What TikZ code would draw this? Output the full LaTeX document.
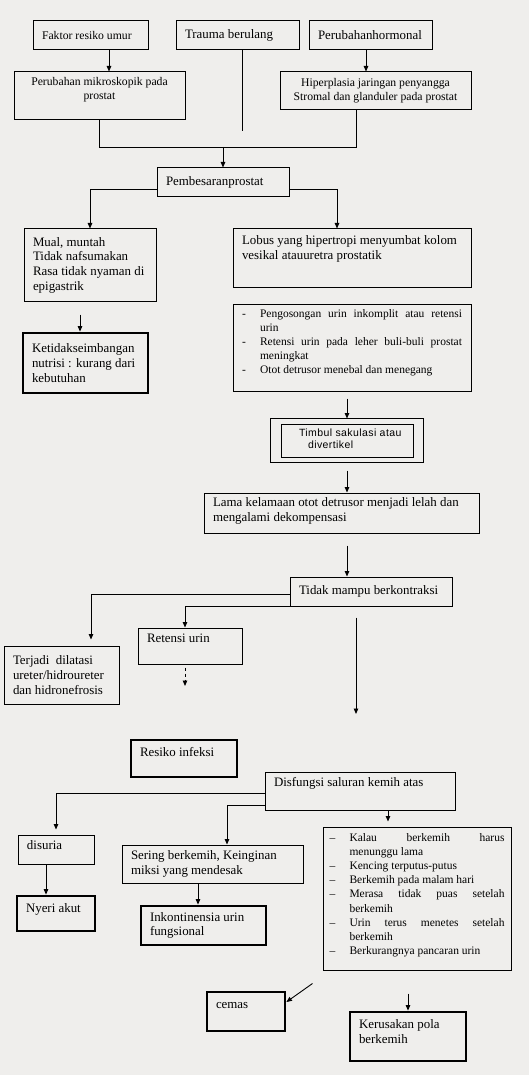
\documentclass[tikz,border=0pt]{standalone}
\usepackage{fontspec}
\setmainfont{Liberation Serif}
\newfontfamily\arialfont[LetterSpace=4]{Liberation Sans}
\usetikzlibrary{arrows.meta}

\definecolor{paper}{RGB}{239,238,236}

% box contents: width, height, text
\newcommand{\midtxt}[3]{\parbox[c][#2][c]{#1}{\raggedright#3}}
\newcommand{\toptxt}[4][5pt]{\parbox[c][#3][t]{#2}{\raggedright\vspace*{#1}\strut#4}}
\newcommand{\listtxt}[4][4pt]{\parbox[c][#3][t]{#2}{\vspace*{#1}#4}}
\newcommand{\dashitem}[3][18pt]{\par\hangindent=#1\hangafter=1\noindent\strut\makebox[#1][l]{#2}#3}

\begin{document}
\begin{tikzpicture}[x=1pt,y=-1pt,
  plainbox/.style={draw,line width=1pt,inner xsep=9pt,inner ysep=0pt,font=\fontsize{12.9}{14.7}\selectfont},
  heavybox/.style={plainbox,line width=2.8pt},
  smallfont/.style={font=\fontsize{11.7}{13.6}\selectfont},
  listfont/.style={font=\fontsize{11.5}{14.1}\selectfont},
  link/.style={line width=0.9pt},
  arr/.style={link,-{Triangle[length=5.5pt,width=4.5pt]}}]

\fill[paper] (0,0) rectangle (529,1075);

% causes
\node[plainbox,smallfont] (faktor) at (90.5,35.5) {\midtxt{97pt}{29pt}{Faktor resiko umur}};
\node[plainbox] (trauma) at (237.5,35.5) {\midtxt{105pt}{29pt}{Trauma berulang}};
\node[plainbox] (hormon) at (370.5,35.5) {\midtxt{105pt}{29pt}{Perubahanhormonal}};
\node[plainbox,smallfont] (mikro) at (99.5,96) {\toptxt[4pt]{153pt}{48pt}{\centering Perubahan mikroskopik pada\\prostat}};
\node[plainbox,smallfont] (hiper) at (375.5,91) {\midtxt{173pt}{38pt}{\centering Hiperplasia jaringan penyangga\\Stromal dan glanduler pada prostat}};
\node[plainbox] (pemb) at (223,182.5) {\midtxt{114pt}{29pt}{Pembesaranprostat}};

% left branch
\node[plainbox] (mual) at (90,265) {\midtxt{114pt}{72pt}{Mual, muntah\\Tidak nafsumakan\\Rasa tidak nyaman di\\epigastrik}};
\node[heavybox] (ketidak) at (85.5,363) {\midtxt{107pt}{60pt}{Ketidakseimbangan\\nutrisi : kurang dari\\kebutuhan}};

% right branch
\node[plainbox] (lobus) at (352,258) {\toptxt[5.7pt]{220pt}{58pt}{Lobus yang hipertropi menyumbat kolom\\vesikal atauuretra prostatik}};
\node[plainbox,listfont] (list1) at (352,347.5) {\listtxt[3.7pt]{220pt}{87pt}{%
  \dashitem{-}{Pengosongan urin inkomplit atau retensi\linebreak urin}
  \dashitem{-}{Retensi urin pada leher buli-buli prostat\linebreak meningkat}
  \dashitem{-}{Otot detrusor menebal dan menegang}}};
\node[plainbox,font=\arialfont\fontsize{10.5}{12}\selectfont] (timbul) at (347,440.5) {\toptxt[4.3pt]{114pt}{33pt}{\hspace*{9pt}Timbul sakulasi atau\\\hspace*{18pt}divertikel}};
\draw[link] ([xshift=-10pt,yshift=5pt]timbul.north west) rectangle ([xshift=10pt,yshift=-5pt]timbul.south east);
\node[plainbox] (lama) at (341.5,513) {\toptxt[3.7pt]{257pt}{40pt}{Lama kelamaan otot detrusor menjadi lelah dan\\mengalami dekompensasi}};
\node[plainbox] (tidak) at (371,591.5) {\midtxt{144pt}{29pt}{Tidak mampu berkontraksi}};

\node[plainbox] (terjadi) at (61.5,675) {\midtxt{97pt}{58pt}{Terjadi \ dilatasi\\ureter/hidroureter\\dan hidronefrosis}};
\node[plainbox] (retensi) at (190,646) {\toptxt[4.7pt]{86pt}{36pt}{Retensi urin}};
\node[heavybox] (resiko) at (184,758.5) {\toptxt[6.7pt]{88pt}{37pt}{Resiko infeksi}};
\node[plainbox] (disf) at (360,791) {\toptxt[4.7pt]{172pt}{38pt}{Disfungsi saluran kemih atas}};

% lower row
\node[plainbox] (disuria) at (56,849.5) {\toptxt[4.7pt]{58pt}{29pt}{disuria}};
\node[heavybox] (nyeri) at (56,913.5) {\toptxt[5.7pt]{60pt}{35pt}{Nyeri akut}};
\node[plainbox] (sering) at (212.5,864) {\midtxt{163pt}{38pt}{Sering berkemih, Keinginan\\miksi yang mendesak}};
\node[heavybox] (inko) at (203.5,925.5) {\midtxt{107pt}{39pt}{Inkontinensia urin\\fungsional}};
\node[plainbox,listfont,inner xsep=6.5pt] (list2) at (417,898.5) {\listtxt[4.7pt]{175pt}{143pt}{%
  \dashitem[20pt]{--}{Kalau berkemih harus\linebreak menunggu lama}
  \dashitem[20pt]{--}{Kencing terputus-putus}
  \dashitem[20pt]{--}{Berkemih pada malam hari}
  \dashitem[20pt]{--}{Merasa tidak puas setelah\linebreak berkemih}
  \dashitem[20pt]{--}{Urin terus menetes setelah\linebreak berkemih}
  \dashitem[20pt]{--}{Berkurangnya pancaran urin}}};
\node[heavybox] (cemas) at (246,1011.5) {\toptxt[6.6pt]{60pt}{39pt}{cemas}};
\node[heavybox] (kerus) at (408,1036.5) {\toptxt[6.6pt]{98pt}{49pt}{Kerusakan pola\\berkemih}};

% free ends and junction
\coordinate (traumaend) at (242,131);
\coordinate (join) at (223,147);
\coordinate (openend) at (356,714);
\coordinate (dashend) at (185,686);

% connectors
\draw[link] (trauma.south -| traumaend) -- (traumaend);
\draw[arr] ([xshift=18.5pt]faktor.south) -- ([xshift=18.5pt]faktor.south |- mikro.north);
\draw[arr] ([xshift=-4.5pt]hormon.south) -- ([xshift=-4.5pt]hormon.south |- hiper.north);
\draw[link] (mikro.south) -- (mikro.south |- join) -| ([xshift=-19.5pt]hiper.south);
\draw[arr] (join) -- (pemb.north);
\draw[arr] ([yshift=-6.5pt]pemb.west) -| (mual.north);
\draw[arr] ([yshift=-6.5pt]pemb.east) -| ([xshift=-15pt]lobus.north);
\draw[arr,shorten <=13pt] ([xshift=-5.5pt]ketidak.north |- mual.south) -- ([xshift=-5.5pt]ketidak.north);
\draw[arr,shorten <=7pt] (timbul.north |- list1.south) -- ([yshift=5pt]timbul.north);
\draw[arr,shorten <=8pt] ([yshift=-5pt]timbul.south) -- (timbul.south |- lama.north);
\draw[arr,shorten <=12pt] (timbul.south |- lama.south) -- (timbul.south |- tidak.north);
\draw[arr,shorten >=6pt] ([yshift=-2.5pt]tidak.west) -| ([xshift=29.5pt]terjadi.north);
\draw[arr] (tidak.south west) -| ([xshift=-5pt]retensi.north);
\draw[arr,shorten <=11pt] (tidak.south -| openend) -- (openend);
\draw[arr,dashed,shorten <=3pt] (retensi.south -| dashend) -- (dashend);
\draw[arr,shorten >=5pt] ([yshift=-2pt]disf.west) -| (disuria.north);
\draw[arr] ([yshift=-14pt]disf.west) -| ([xshift=14.5pt]sering.north);
\draw[arr,shorten >=5pt] ([xshift=28pt]disf.south) -- ([xshift=28pt]disf.south |- list2.north);
\draw[arr] ([xshift=-10pt]nyeri.north |- disuria.south) -- ([xshift=-10pt]nyeri.north);
\draw[arr] ([xshift=-5.5pt]inko.north |- sering.south) -- ([xshift=-5.5pt]inko.north);
\draw[arr] ([xshift=-10pt,yshift=-13pt]list2.south west) -- ([yshift=9.5pt]cemas.east);
\draw[arr,shorten <=23pt] (kerus.north |- list2.south) -- (kerus.north);

\end{tikzpicture}
\end{document}
